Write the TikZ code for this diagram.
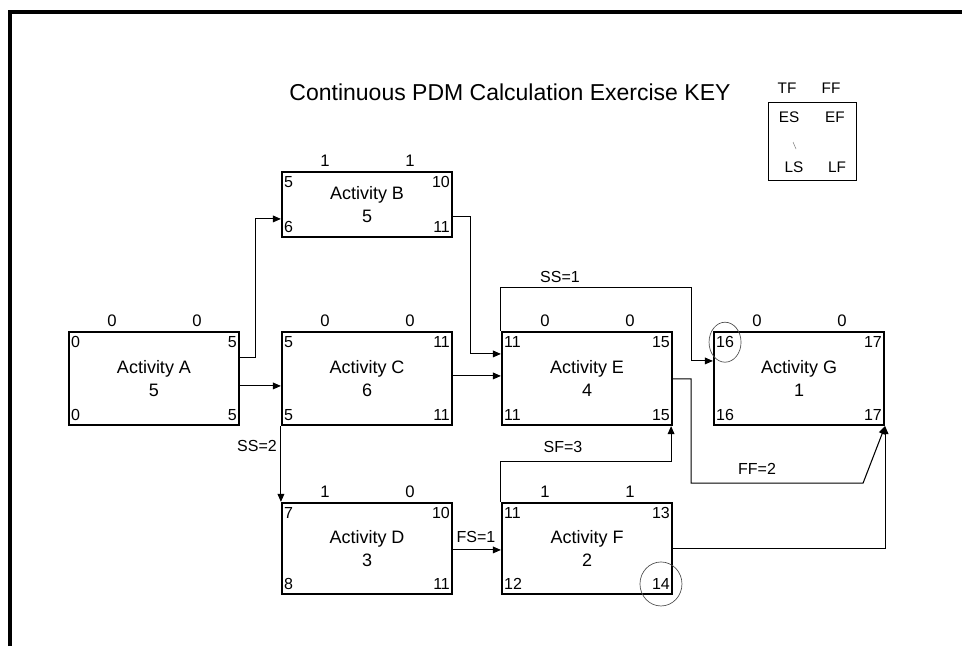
\documentclass[tikz,border=0pt]{standalone}
\usepackage{fontspec}
\setmainfont{Liberation Sans}
\usetikzlibrary{positioning,arrows.meta,calc}

\begin{document}
\begin{tikzpicture}[x=0.75pt, y=-0.75pt,
    actbox/.style={draw, line width=1.6pt, minimum width=127.5pt, align=center,
                   inner sep=0pt, font=\fontsize{13.5}{17}\selectfont},
    corner/.style={inner xsep=2.2pt, inner ysep=4pt, font=\fontsize{12}{13}\selectfont},
    float/.style={font=\fontsize{12.5}{13}\selectfont},
    lag/.style={font=\fontsize{12}{13}\selectfont},
    link/.style={line width=0.8pt, -{Triangle[length=6pt,width=5pt]}},
    keytxt/.style={font=\fontsize{11.5}{12}\selectfont}]
  \useasboundingbox (0,0) rectangle (962,646);
  \draw[line width=2.3pt] (10,646) -- (10,12) -- (962,12);

  \node[font=\fontsize{17.25}{20}\selectfont] (title) at (510,92) {Continuous PDM Calculation Exercise KEY};

  % legend
  \node[draw, line width=0.6pt, minimum width=66pt, minimum height=58.5pt] (key) at (812,141) {};
  \node[keytxt] (key-tf) at (787,88) {TF};
  \node[keytxt] (key-ff) at (831,88) {FF};
  \node[keytxt] (key-es) at (789,117) {ES};
  \node[keytxt] (key-ef) at (835,117) {EF};
  \node[keytxt] (key-ls) at (794,167) {LS};
  \node[keytxt] (key-lf) at (837,167) {LF};
  \draw[gray, line width=0.4pt] (793,142) -- (796,149);

  % activities: name/left/top/height/label/duration/ES/EF/LS/LF/TF/FF
  \foreach \n/\x/\y/\h/\t/\d/\es/\ef/\ls/\lf/\tf/\ff in {
      A/69/332/93/Activity A/5/0/5/0/5/0/0,
      B/282/172/65/Activity B/5/5/10/6/11/1/1,
      C/282/332/93/Activity C/6/5/11/5/11/0/0,
      D/282/503/91/Activity D/3/7/10/8/11/1/0,
      E/502/332/93/Activity E/4/11/15/11/15/0/0,
      F/502/503/91/Activity F/2/11/13/12/14/1/1,
      G/714/332/93/Activity G/1/16/17/16/17/0/0} {
    \node[actbox, minimum height=\h*0.75pt] (\n) at ({\x+85},{\y+\h/2}) {\t\\\d};
    \node[corner, anchor=north west] (\n-es) at (\n.north west) {\es};
    \node[corner, anchor=north east] (\n-ef) at (\n.north east) {\ef};
    \node[corner, anchor=south west] (\n-ls) at (\n.south west) {\ls};
    \node[corner, anchor=south east] (\n-lf) at (\n.south east) {\lf};
    \node[float] (\n-tf) at ({\x+43},{\y-11}) {\tf};
    \node[float] (\n-ff) at ({\x+128},{\y-11}) {\ff};
  }

  % links
  \draw[link] ($(A.north east)+(0,27)$) -- ++(15,0) |- ($(B.north west)+(0,48)$);
  \draw[link] ($(A.north east)+(0,55)$) -- ($(C.north west)+(0,55)$);
  \draw[link] ($(B.north east)+(0,46)$) -- ++(17,0) |- ($(E.north west)+(0,23)$);
  \draw[link] ($(C.north east)+(0,45)$) -- ($(E.north west)+(0,45)$);
  \draw[link] (E.north west) -- ++(0,-43) -| ($(G.north west)+(-21,30)$) -- ($(G.north west)+(0,30)$);
  \draw[link] ($(E.north east)+(0,48)$) -- ++(18,0) |- ($(G.south east)+(-22,57)$) -- (G.south east);
  \draw[link] ($(F.north east)+(0,47)$) -| (G.south east);
  \draw[link] (F.north west) |- ($(E.south east)+(-2,35)$) -- ($(E.south east)+(-2,0)$);
  \draw[link] (C.south west) -- (D.north west);
  \draw[link] ($(D.north east)+(0,48)$) -- ($(F.north west)+(0,48)$);

  \node[lag] (ss1) at (560,277) {SS=1};
  \node[lag] (ff2) at (757,469) {FF=2};
  \node[lag] (sf3) at (563,447) {SF=3};
  \node[lag] (ss2) at (257,446) {SS=2};
  \node[lag] (fs1) at (476,537) {FS=1};

  % hand marks
  \draw[gray!60!black, line width=0.5pt] (G-es) ellipse [x radius=16, y radius=20];
  \draw[gray!60!black, line width=0.5pt] (F-lf) ellipse [x radius=21, y radius=22];
\end{tikzpicture}
\end{document}
